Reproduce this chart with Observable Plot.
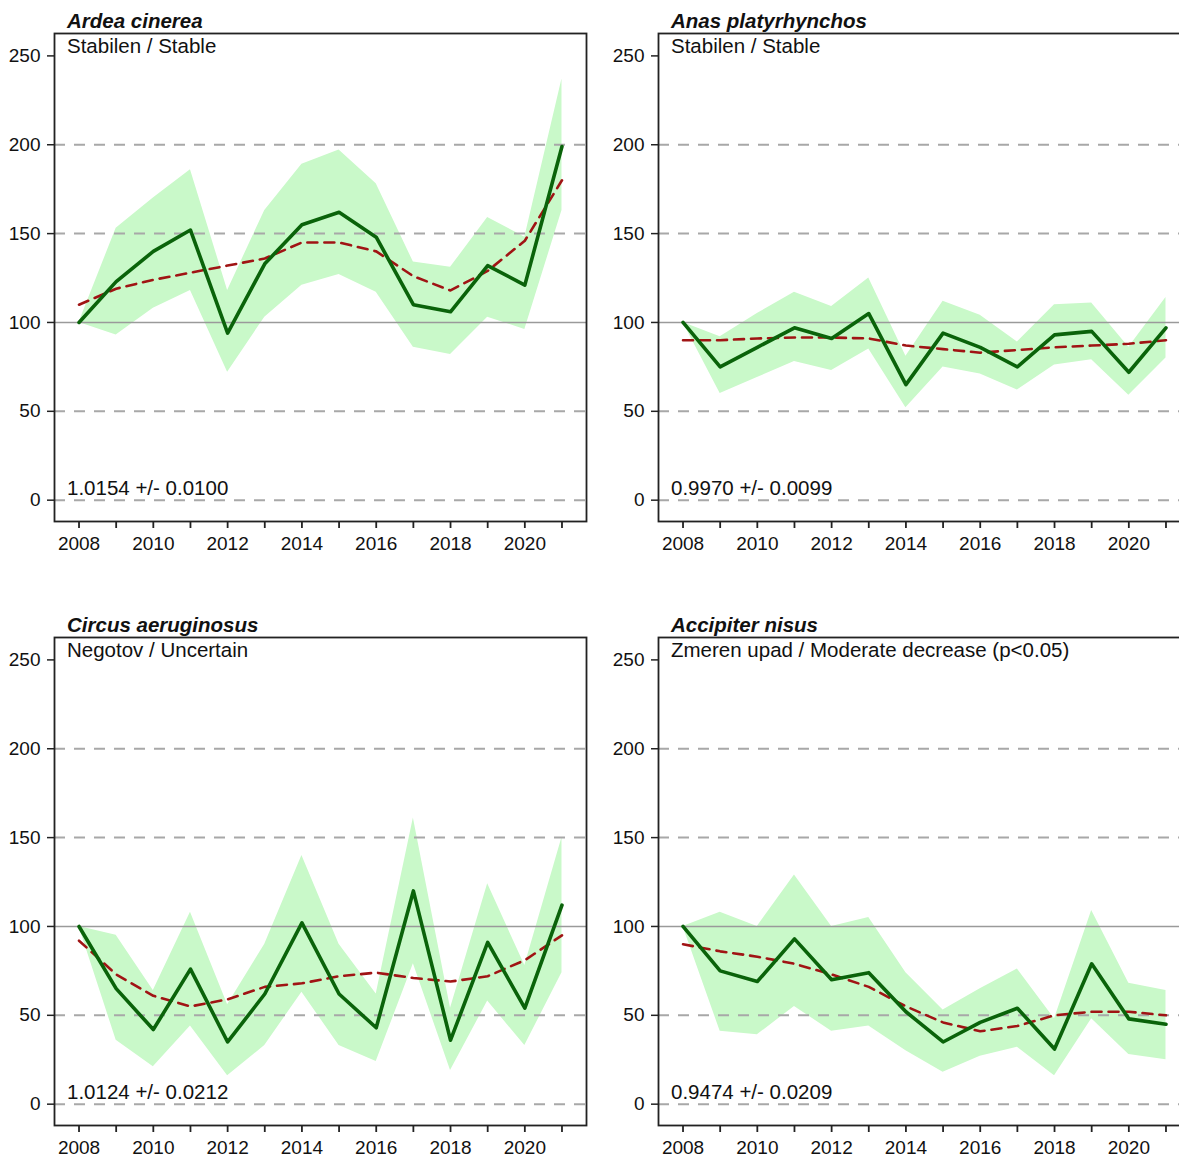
<!DOCTYPE html>
<html>
<head>
<meta charset="utf-8">
<script src="https://cdn.jsdelivr.net/npm/d3@7"></script>
<script src="https://cdn.jsdelivr.net/npm/@observablehq/plot@0.6"></script>
<style>
  html, body { margin: 0; padding: 0; background: #fff; }
  #wrap { position: relative; width: 1179px; height: 1157px; overflow: hidden; background: #fff; }
  .panel { position: absolute; width: 604px; }
  .panel svg { max-width: none !important; }
</style>
</head>
<body>
<div id="wrap"></div>
<script>
// ---- data ----
const years = [2008, 2009, 2010, 2011, 2012, 2013, 2014, 2015, 2016, 2017, 2018, 2019, 2020, 2021];
const labelYears = [2008, 2010, 2012, 2014, 2016, 2018, 2020];
const yTicks = [0, 50, 100, 150, 200, 250];
const gridValues = [0, 50, 150, 200];
const refValue = 100;

const speciesNames = ["Ardea cinerea", "Anas platyrhynchos", "Circus aeruginosus", "Accipiter nisus"];
const trendLabels = ["Stabilen / Stable", "Stabilen / Stable", "Negotov / Uncertain", "Zmeren upad / Moderate decrease (p<0.05)"];
const slopeLabels = ["1.0154 +/- 0.0100", "0.9970 +/- 0.0099", "1.0124 +/- 0.0212", "0.9474 +/- 0.0209"];

const ardeaIndex = [100, 123, 140, 152, 94, 133, 155, 162, 148, 110, 106, 132, 121, 199];
const ardeaUpper = [100, 153, 170, 186, 118, 163, 189, 197, 178, 134, 131, 159, 148, 237];
const ardeaLower = [100, 93, 108, 118, 72, 103, 121, 127, 117, 86, 82, 103, 96, 163];
const ardeaTrend = [110, 119, 124, 128, 132, 136, 145, 145, 140, 126, 118, 129, 146, 180];

const anasIndex = [100, 75, 86, 97, 91, 105, 65, 94, 86, 75, 93, 95, 72, 97];
const anasUpper = [100, 92, 105, 117, 109, 125, 81, 112, 104, 89, 110, 111, 86, 114];
const anasLower = [100, 60, 69, 78, 73, 85, 52, 75, 71, 62, 76, 79, 59, 80];
const anasTrend = [90, 90, 91, 91.5, 91.5, 91, 87, 85, 83, 84.5, 86, 87, 88, 90];

const circusIndex = [100, 65, 42, 76, 35, 62, 102, 62, 43, 120, 36, 91, 54, 112];
const circusUpper = [100, 95, 64, 108, 56, 90, 140, 90, 62, 161, 54, 124, 78, 150];
const circusLower = [100, 36, 21, 44, 16, 33, 63, 33, 24, 79, 19, 58, 33, 74];
const circusTrend = [92, 73, 61, 55, 59, 66, 68, 72, 74, 71, 69, 72, 81, 95];

const accipiterIndex = [100, 75, 69, 93, 70, 74, 52, 35, 46, 54, 31, 79, 48, 45];
const accipiterUpper = [100, 108, 100, 129, 100, 105, 74, 53, 65, 76, 48, 109, 68, 64];
const accipiterLower = [100, 41, 39, 55, 41, 44, 30, 18, 27, 32, 16, 48, 28, 25];
const accipiterTrend = [90, 86, 83, 79, 73, 66, 55, 46, 41, 44, 50, 52, 52, 50];

const seriesList = [
  [ardeaIndex, ardeaLower, ardeaUpper, ardeaTrend],
  [anasIndex, anasLower, anasUpper, anasTrend],
  [circusIndex, circusLower, circusUpper, circusTrend],
  [accipiterIndex, accipiterLower, accipiterUpper, accipiterTrend]
];

// ---- drawing ----
const wrap = document.getElementById("wrap");
const FONT = "'Liberation Sans', Arial, Helvetica, sans-serif";

seriesList.forEach((s, i) => {
  const [idx, lo, hi, tr] = s;
  const rows = years.map((year, k) => ({year, index: idx[k], lower: lo[k], upper: hi[k], trend: tr[k]}));
  const chart = Plot.plot({
    width: 604,
    height: 575,
    marginLeft: 54,
    marginRight: 18,
    marginTop: 33,
    marginBottom: 54,
    style: {fontFamily: FONT, fontSize: "19px", color: "#111", background: "transparent", overflow: "visible", maxWidth: "none"},
    x: {domain: [2007.34, 2021.66]},
    y: {domain: [-12, 262.6]},
    marks: [
      Plot.areaY(rows, {x: "year", y1: "lower", y2: "upper", fill: "#c9f9c9"}),
      Plot.ruleY(gridValues, {stroke: "#a8a8a8", strokeWidth: 2, strokeDasharray: "11,9"}),
      Plot.ruleY([refValue], {stroke: "#9a9a9a", strokeWidth: 1.6}),
      Plot.line(rows, {x: "year", y: "trend", stroke: "#a01414", strokeWidth: 2.6, strokeDasharray: "10,7"}),
      Plot.line(rows, {x: "year", y: "index", stroke: "#0a630a", strokeWidth: 3.6}),
      Plot.frame({stroke: "#222", strokeWidth: 1.8}),
      Plot.axisY(yTicks, {tickSize: 7, tickPadding: 7, label: null, stroke: "#222", strokeWidth: 1.5, fontSize: 19}),
      Plot.axisX(years, {tickSize: 7, tickFormat: () => "", label: null, stroke: "#222", strokeWidth: 1.8}),
      Plot.axisX(labelYears, {tickSize: 0, tickPadding: 15, tickFormat: d => String(d), label: null, fontSize: 19}),
      Plot.text([speciesNames[i]], {text: d => d, frameAnchor: "top-left", dx: 12.5, dy: -20.5, lineAnchor: "top", textAnchor: "start", fontSize: 20.5, fontWeight: "bold", fontStyle: "italic", fill: "#111"}),
      Plot.text([trendLabels[i]], {text: d => d, frameAnchor: "top-left", dx: 12.5, dy: 4.5, lineAnchor: "top", textAnchor: "start", fontSize: 20.5, fill: "#111"}),
      Plot.text([slopeLabels[i]], {text: d => d, frameAnchor: "bottom-left", dx: 12.5, dy: -41.5, lineAnchor: "top", textAnchor: "start", fontSize: 20.5, fill: "#111"})
    ]
  });
  chart.style.maxWidth = "none";
  const div = document.createElement("div");
  div.className = "panel";
  div.style.left = (i % 2) * 604 + "px";
  div.style.top = Math.floor(i / 2) * 604 + "px";
  div.appendChild(chart);
  wrap.appendChild(div);
});
</script>
</body>
</html>
